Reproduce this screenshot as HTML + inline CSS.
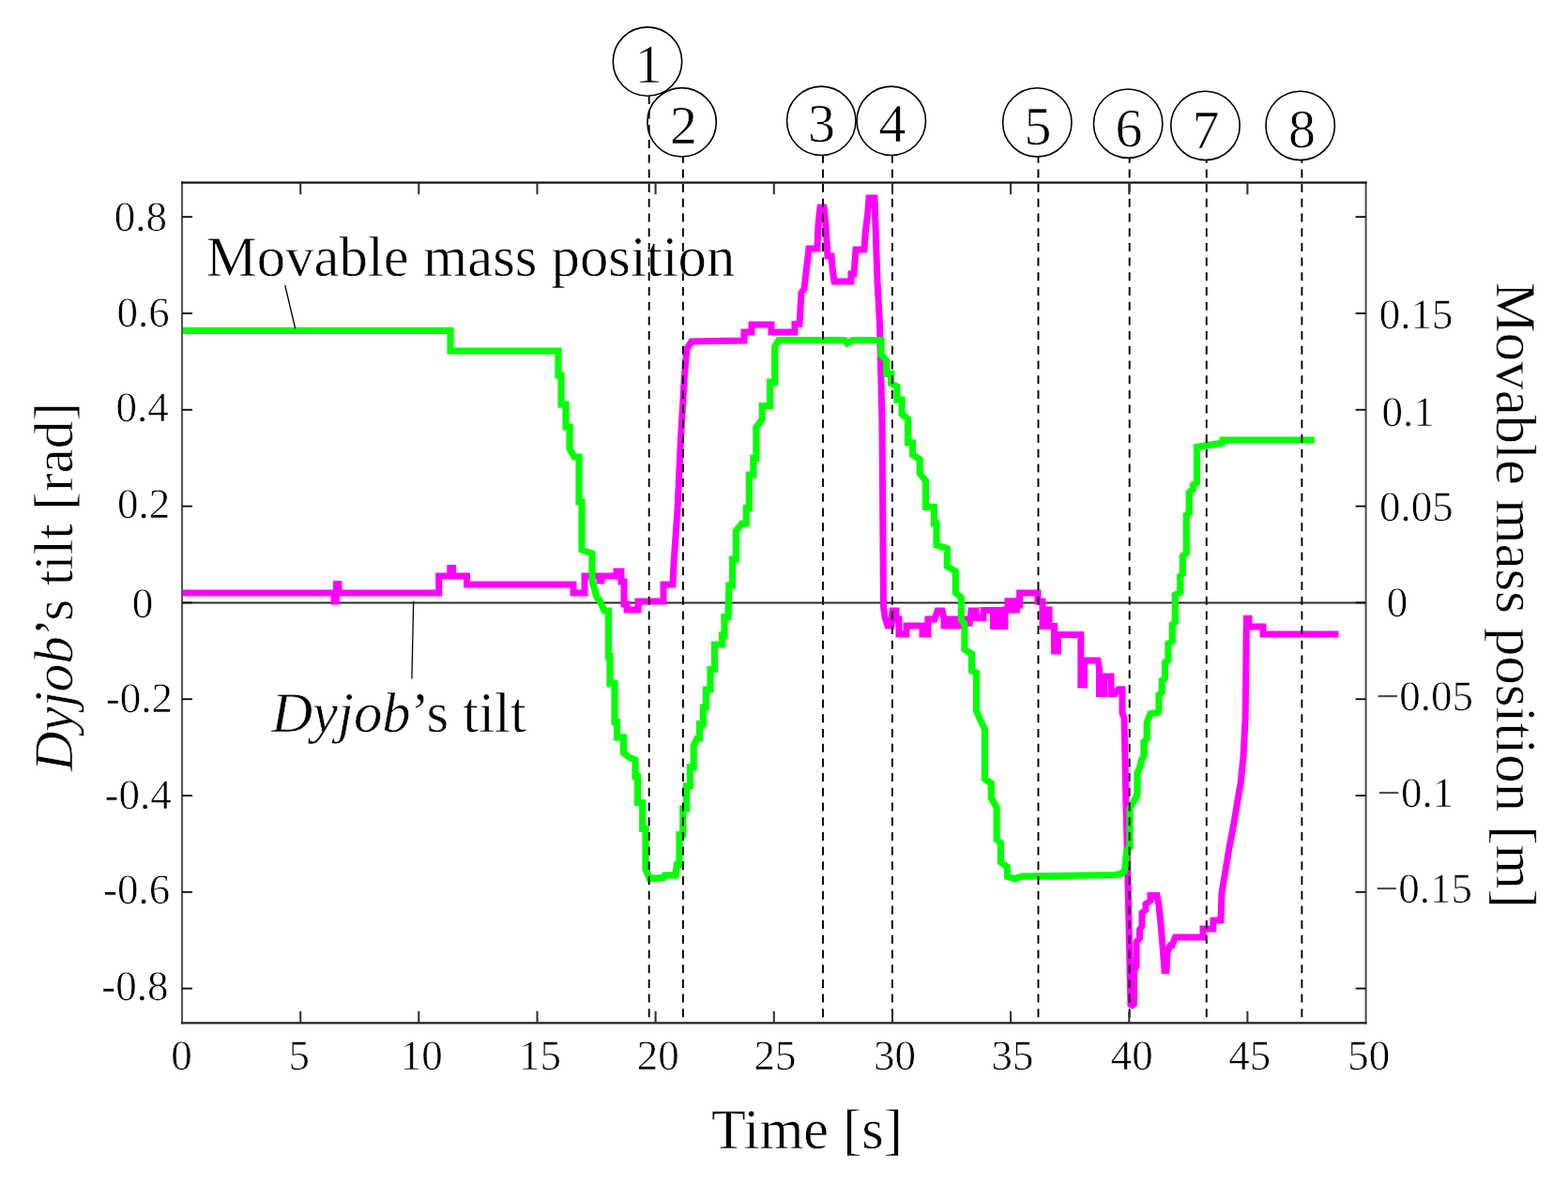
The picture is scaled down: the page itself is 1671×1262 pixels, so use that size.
<!DOCTYPE html>
<html><head><meta charset="utf-8"><style>
html,body{margin:0;padding:0;background:#fff;width:1671px;height:1262px;overflow:hidden}
svg{display:block}
text{font-family:"Liberation Serif","Times New Roman",serif;fill:#000;text-rendering:geometricPrecision;stroke:#fff;stroke-width:0.6px}
</style></head><body>
<svg width="1671" height="1262" viewBox="0 0 1671 1262">
<rect width="1671" height="1262" fill="#fff"/>
<line x1="194.0" y1="642.4" x2="1455.6" y2="642.4" stroke="#2a2a2a" stroke-width="2"/>
<polyline points="194.0,632.0 356.0,632.0 356.0,641.0 358.5,641.0 358.5,622.6 361.0,622.6 361.0,632.0 467.7,632.0 467.7,614.0 479.8,614.0 479.8,605.5 482.6,605.5 482.6,614.0 497.5,614.0 497.5,623.0 611.0,623.0 611.0,632.0 623.0,632.0 623.0,614.0 639.0,614.0 639.0,619.0 641.0,619.0 641.0,614.0 657.0,614.0 657.0,609.0 662.0,609.0 662.0,620.0 665.0,620.0 665.0,644.0 668.0,644.0 668.0,650.0 680.0,650.0 680.0,641.0 707.0,641.0 707.0,623.0 717.0,623.0 718.0,601.0 722.0,543.0 725.5,467.0 729.3,403.0 731.8,372.0 737.0,364.0 793.0,363.0 793.0,354.0 801.0,354.0 801.0,346.0 822.0,346.0 822.0,354.0 847.0,354.0 847.0,345.5 852.0,345.5 854.0,312.0 857.0,308.0 859.0,290.0 862.0,265.0 871.0,265.0 872.0,240.0 874.0,221.0 878.0,221.0 880.0,240.0 882.0,273.0 886.0,273.0 887.0,285.0 889.0,300.0 907.0,300.0 907.0,292.0 910.0,292.0 912.0,266.0 921.0,266.0 922.0,250.0 925.0,225.0 926.0,211.0 932.0,211.0 933.0,240.0 935.0,300.0 937.5,345.0 940.0,450.0 941.5,646.0 943.0,658.0 946.0,667.0 950.0,667.0 951.0,651.0 955.0,651.0 955.0,660.0 958.0,660.0 958.0,676.0 966.0,676.0 966.0,667.0 983.0,667.0 983.0,676.0 989.0,676.0 989.0,660.0 996.0,660.0 999.0,651.0 1004.0,651.0 1006.0,660.0 1006.0,667.0 1009.0,667.0 1009.0,660.0 1016.0,660.0 1016.0,667.0 1022.0,667.0 1022.0,660.0 1031.0,660.0 1033.0,667.0 1035.0,651.0 1040.0,651.0 1040.0,658.5 1048.0,658.5 1048.0,650.5 1058.5,650.5 1058.5,667.6 1062.0,667.6 1062.0,650.5 1066.0,650.5 1066.0,667.6 1071.0,667.6 1071.0,649.9 1083.4,649.9 1083.4,640.7 1074.0,640.7 1074.0,645.0 1086.6,645.0 1086.6,632.0 1106.0,632.0 1106.0,641.0 1111.0,641.0 1111.0,667.5 1118.0,667.5 1118.0,650.0 1115.0,650.0 1115.0,667.5 1123.5,667.5 1123.5,694.0 1127.5,694.0 1127.5,676.6 1151.8,676.6 1151.8,730.0 1155.5,730.0 1155.5,704.0 1170.0,704.0 1171.5,712.0 1171.5,739.5 1176.5,739.5 1176.5,721.0 1184.0,721.0 1184.0,739.5 1188.0,739.5 1192.0,734.7 1196.0,734.7 1196.0,760.0 1198.0,765.0 1200.0,857.0 1202.0,940.0 1205.0,1073.0 1208.5,1070.0 1208.5,1035.0 1211.0,1030.0 1211.0,1004.0 1214.5,1000.0 1214.5,991.0 1217.0,987.0 1217.0,973.0 1221.0,970.0 1221.0,963.5 1226.0,960.0 1226.0,954.6 1233.0,954.6 1235.0,965.0 1237.5,990.0 1239.5,1015.0 1241.0,1034.6 1243.0,1034.6 1244.0,1015.0 1247.0,1007.8 1249.0,1007.8 1252.5,999.0 1282.0,999.0 1282.0,990.0 1293.0,990.0 1293.0,981.0 1301.0,981.0 1302.0,951.7 1306.0,927.5 1310.0,903.3 1314.2,881.7 1318.2,857.5 1322.3,833.3 1325.0,806.4 1327.1,766.0 1327.7,725.7 1328.2,671.9 1328.5,659.3 1331.0,659.3 1331.0,668.0 1346.0,668.0 1346.0,676.0 1426.5,676.0" fill="none" stroke="#ff00ff" stroke-width="7" stroke-linejoin="miter" stroke-miterlimit="2" stroke-linecap="butt"/>
<polyline points="194.0,352.3 480.0,352.3 480.0,374.0 595.0,374.0 595.0,400.0 598.0,400.0 598.0,431.0 603.0,431.0 603.0,455.0 607.0,455.0 607.0,478.0 612.0,487.0 617.0,487.0 617.0,535.0 620.0,535.0 620.0,586.0 631.0,590.0 631.0,619.0 636.0,636.6 639.0,640.0 644.0,651.0 648.4,651.0 648.4,699.6 650.0,699.6 650.0,728.7 655.0,728.7 655.0,769.3 657.5,769.3 657.5,785.8 664.4,785.8 664.4,802.3 670.7,807.3 677.0,810.0 677.0,827.6 679.6,827.6 679.6,855.5 684.7,855.5 684.7,883.4 688.0,883.4 688.0,926.5 692.3,936.7 707.5,935.4 708.7,932.9 720.2,932.9 721.4,921.4 724.0,921.4 724.0,889.7 727.8,889.7 727.8,861.9 731.6,861.9 731.6,837.8 735.4,837.8 735.4,817.5 739.2,817.5 739.2,794.7 743.0,787.0 745.5,787.0 745.5,771.8 749.3,771.8 749.3,754.0 752.4,754.0 752.4,735.0 757.0,735.0 757.0,713.5 761.5,713.5 761.5,687.0 769.6,687.0 769.6,676.8 772.0,676.8 772.0,657.7 776.0,657.7 776.8,624.0 780.6,624.0 780.6,596.0 784.4,596.0 784.4,565.7 790.7,558.0 795.3,558.0 795.3,541.6 798.3,541.6 798.3,506.0 802.9,506.0 802.9,488.3 805.9,488.3 805.9,455.4 812.3,446.5 812.3,432.5 820.6,432.5 820.6,407.2 825.7,407.2 825.7,369.2 830.0,362.5 899.8,362.5 902.8,366.0 908.8,362.5 939.0,362.5 939.0,378.0 944.7,384.4 944.7,398.3 949.7,398.3 949.7,408.5 956.0,412.3 956.0,426.2 961.1,426.2 961.1,441.4 967.5,446.5 967.5,471.8 972.5,471.8 972.5,484.5 980.2,489.6 980.2,504.8 986.5,512.4 986.5,540.3 995.4,540.3 995.4,558.0 998.0,558.0 998.0,580.9 1009.3,584.7 1009.3,603.7 1018.3,609.0 1018.3,631.6 1024.3,637.0 1024.3,660.3 1027.9,665.0 1027.9,692.0 1035.5,697.0 1035.5,714.8 1040.6,717.3 1040.6,757.9 1044.4,766.8 1049.4,777.0 1049.4,830.2 1056.3,835.2 1056.3,850.4 1062.1,860.6 1062.1,894.8 1066.4,898.6 1066.4,918.9 1073.5,924.0 1073.5,934.1 1081.1,936.6 1088.7,934.1 1188.0,932.5 1194.5,931.5 1198.5,928.4 1199.2,922.0 1200.8,906.2 1204.0,903.0 1204.0,861.9 1206.4,857.0 1210.3,850.8 1212.0,846.0 1212.0,824.0 1214.3,819.0 1216.7,809.7 1219.0,806.0 1219.0,790.6 1222.2,787.5 1222.2,770.0 1226.0,760.6 1234.0,759.5 1235.0,756.0 1235.0,740.5 1238.2,738.0 1238.2,725.3 1241.5,722.8 1241.5,706.3 1245.0,703.8 1245.0,686.0 1249.3,683.5 1249.3,665.8 1252.3,663.3 1252.3,634.0 1257.7,631.5 1257.7,614.0 1260.3,611.5 1260.3,592.8 1264.3,589.3 1264.3,548.9 1267.2,546.5 1267.2,525.0 1271.4,521.5 1271.4,516.8 1275.5,514.4 1275.5,476.4 1286.8,474.6 1302.3,472.2 1302.9,469.0 1401.0,469.0" fill="none" stroke="#04ff04" stroke-width="7.2" stroke-linejoin="miter" stroke-miterlimit="1.5" stroke-linecap="butt"/>
<line x1="691.7" y1="102.3" x2="691.7" y2="1090.5" stroke="#000" stroke-width="1.9" stroke-dasharray="9 6.7" stroke-dashoffset="0.40"/>
<line x1="727.9" y1="167.0" x2="727.9" y2="1090.5" stroke="#000" stroke-width="1.9" stroke-dasharray="9 6.7" stroke-dashoffset="2.30"/>
<line x1="877.0" y1="165.5" x2="877.0" y2="1090.5" stroke="#000" stroke-width="1.9" stroke-dasharray="9 6.7" stroke-dashoffset="0.80"/>
<line x1="950.9" y1="165.5" x2="950.9" y2="1090.5" stroke="#000" stroke-width="1.9" stroke-dasharray="9 6.7" stroke-dashoffset="0.80"/>
<line x1="1106.5" y1="167.1" x2="1106.5" y2="1090.5" stroke="#000" stroke-width="1.9" stroke-dasharray="9 6.7" stroke-dashoffset="2.40"/>
<line x1="1203.7" y1="168.4" x2="1203.7" y2="1090.5" stroke="#000" stroke-width="1.9" stroke-dasharray="9 6.7" stroke-dashoffset="3.70"/>
<line x1="1285.8" y1="170.6" x2="1285.8" y2="1090.5" stroke="#000" stroke-width="1.9" stroke-dasharray="9 6.7" stroke-dashoffset="5.90"/>
<line x1="1387.4" y1="170.6" x2="1387.4" y2="1090.5" stroke="#000" stroke-width="1.9" stroke-dasharray="9 6.7" stroke-dashoffset="5.90"/>
<line x1="194.0" y1="193.5" x2="194.0" y2="1091.5" stroke="#555" stroke-width="2.1"/>
<line x1="1455.6" y1="193.5" x2="1455.6" y2="1091.5" stroke="#4a4a4a" stroke-width="2.0"/>
<line x1="193.0" y1="194.65" x2="1456.6" y2="194.65" stroke="#151515" stroke-width="2.1"/>
<line x1="193.0" y1="1090.4" x2="1456.6" y2="1090.4" stroke="#202020" stroke-width="2.1"/>
<line x1="194.0" y1="334.0" x2="205.0" y2="334.0" stroke="#111" stroke-width="1.9"/>
<line x1="1455.6" y1="334.0" x2="1444.6" y2="334.0" stroke="#111" stroke-width="1.9"/>
<line x1="194.0" y1="436.8" x2="205.0" y2="436.8" stroke="#111" stroke-width="1.9"/>
<line x1="1455.6" y1="436.8" x2="1444.6" y2="436.8" stroke="#111" stroke-width="1.9"/>
<line x1="194.0" y1="539.6" x2="205.0" y2="539.6" stroke="#111" stroke-width="1.9"/>
<line x1="1455.6" y1="539.6" x2="1444.6" y2="539.6" stroke="#111" stroke-width="1.9"/>
<line x1="194.0" y1="642.4" x2="205.0" y2="642.4" stroke="#111" stroke-width="1.9"/>
<line x1="1455.6" y1="642.4" x2="1444.6" y2="642.4" stroke="#111" stroke-width="1.9"/>
<line x1="194.0" y1="745.2" x2="205.0" y2="745.2" stroke="#111" stroke-width="1.9"/>
<line x1="1455.6" y1="745.2" x2="1444.6" y2="745.2" stroke="#111" stroke-width="1.9"/>
<line x1="194.0" y1="848.0" x2="205.0" y2="848.0" stroke="#111" stroke-width="1.9"/>
<line x1="1455.6" y1="848.0" x2="1444.6" y2="848.0" stroke="#111" stroke-width="1.9"/>
<line x1="194.0" y1="950.8" x2="205.0" y2="950.8" stroke="#111" stroke-width="1.9"/>
<line x1="1455.6" y1="950.8" x2="1444.6" y2="950.8" stroke="#111" stroke-width="1.9"/>
<line x1="194.0" y1="231.2" x2="205.0" y2="231.2" stroke="#111" stroke-width="1.9"/>
<line x1="1455.6" y1="231.2" x2="1444.6" y2="231.2" stroke="#111" stroke-width="1.9"/>
<line x1="194.0" y1="1053.6" x2="205.0" y2="1053.6" stroke="#111" stroke-width="1.9"/>
<line x1="1455.6" y1="1053.6" x2="1444.6" y2="1053.6" stroke="#111" stroke-width="1.9"/>
<line x1="320.2" y1="1090.5" x2="320.2" y2="1077.8" stroke="#333" stroke-width="2.1"/>
<line x1="320.2" y1="194.5" x2="320.2" y2="207.2" stroke="#333" stroke-width="2.1"/>
<line x1="446.3" y1="1090.5" x2="446.3" y2="1077.8" stroke="#333" stroke-width="2.1"/>
<line x1="446.3" y1="194.5" x2="446.3" y2="207.2" stroke="#333" stroke-width="2.1"/>
<line x1="572.5" y1="1090.5" x2="572.5" y2="1077.8" stroke="#333" stroke-width="2.1"/>
<line x1="572.5" y1="194.5" x2="572.5" y2="207.2" stroke="#333" stroke-width="2.1"/>
<line x1="698.6" y1="1090.5" x2="698.6" y2="1077.8" stroke="#333" stroke-width="2.1"/>
<line x1="698.6" y1="194.5" x2="698.6" y2="207.2" stroke="#333" stroke-width="2.1"/>
<line x1="824.8" y1="1090.5" x2="824.8" y2="1077.8" stroke="#333" stroke-width="2.1"/>
<line x1="824.8" y1="194.5" x2="824.8" y2="207.2" stroke="#333" stroke-width="2.1"/>
<line x1="951.0" y1="1090.5" x2="951.0" y2="1077.8" stroke="#333" stroke-width="2.1"/>
<line x1="951.0" y1="194.5" x2="951.0" y2="207.2" stroke="#333" stroke-width="2.1"/>
<line x1="1077.1" y1="1090.5" x2="1077.1" y2="1077.8" stroke="#333" stroke-width="2.1"/>
<line x1="1077.1" y1="194.5" x2="1077.1" y2="207.2" stroke="#333" stroke-width="2.1"/>
<line x1="1203.3" y1="1090.5" x2="1203.3" y2="1077.8" stroke="#333" stroke-width="2.1"/>
<line x1="1203.3" y1="194.5" x2="1203.3" y2="207.2" stroke="#333" stroke-width="2.1"/>
<line x1="1329.4" y1="1090.5" x2="1329.4" y2="1077.8" stroke="#333" stroke-width="2.1"/>
<line x1="1329.4" y1="194.5" x2="1329.4" y2="207.2" stroke="#333" stroke-width="2.1"/>
<line x1="303.7" y1="304" x2="314.8" y2="350.5" stroke="#000" stroke-width="1.3"/>
<line x1="440.7" y1="640.8" x2="438.9" y2="723.4" stroke="#000" stroke-width="1.3"/>
<circle cx="690.0" cy="65.6" r="36.7" fill="none" stroke="#000" stroke-width="1.6"/>
<circle cx="726.6" cy="130.3" r="36.7" fill="none" stroke="#000" stroke-width="1.6"/>
<circle cx="875.3" cy="128.8" r="36.7" fill="none" stroke="#000" stroke-width="1.6"/>
<circle cx="949.8" cy="128.8" r="36.7" fill="none" stroke="#000" stroke-width="1.6"/>
<circle cx="1105.35" cy="130.4" r="36.7" fill="none" stroke="#000" stroke-width="1.6"/>
<circle cx="1202.2" cy="131.7" r="36.7" fill="none" stroke="#000" stroke-width="1.6"/>
<circle cx="1284.5" cy="133.9" r="36.7" fill="none" stroke="#000" stroke-width="1.6"/>
<circle cx="1385.7" cy="133.9" r="36.7" fill="none" stroke="#000" stroke-width="1.6"/>
<text x="149.90" y="245.60" font-size="45.00" text-anchor="middle">0.8</text>
<text x="152.50" y="348.20" font-size="45.00" text-anchor="middle">0.6</text>
<text x="151.60" y="449.40" font-size="45.00" text-anchor="middle">0.4</text>
<text x="153.10" y="552.00" font-size="45.00" text-anchor="middle">0.2</text>
<text x="152.10" y="657.60" font-size="45.00" text-anchor="middle">0</text>
<text x="148.40" y="759.40" font-size="45.00" text-anchor="middle">-0.2</text>
<text x="147.20" y="862.00" font-size="45.00" text-anchor="middle">-0.4</text>
<text x="145.70" y="963.00" font-size="45.00" text-anchor="middle">-0.6</text>
<text x="143.90" y="1065.80" font-size="45.00" text-anchor="middle">-0.8</text>
<text x="1509.10" y="349.60" font-size="45.00" text-anchor="middle">0.15</text>
<text x="1500.70" y="454.40" font-size="45.00" text-anchor="middle">0.1</text>
<text x="1509.40" y="555.20" font-size="45.00" text-anchor="middle">0.05</text>
<text x="1489.00" y="656.60" font-size="45.00" text-anchor="middle">0</text>
<text x="1518.00" y="756.60" font-size="45.00" text-anchor="middle">−0.05</text>
<text x="1508.40" y="860.00" font-size="45.00" text-anchor="middle">−0.1</text>
<text x="1517.00" y="962.40" font-size="45.00" text-anchor="middle">−0.15</text>
<text x="193.40" y="1139.80" font-size="45.00" text-anchor="middle">0</text>
<text x="318.80" y="1139.80" font-size="45.00" text-anchor="middle">5</text>
<text x="449.30" y="1139.60" font-size="45.00" text-anchor="middle">10</text>
<text x="575.60" y="1139.60" font-size="45.00" text-anchor="middle">15</text>
<text x="701.20" y="1139.60" font-size="45.00" text-anchor="middle">20</text>
<text x="826.10" y="1139.60" font-size="45.00" text-anchor="middle">25</text>
<text x="953.50" y="1139.60" font-size="45.00" text-anchor="middle">30</text>
<text x="1079.10" y="1139.60" font-size="45.00" text-anchor="middle">35</text>
<text x="1206.30" y="1139.60" font-size="45.00" text-anchor="middle">40</text>
<text x="1331.80" y="1139.60" font-size="45.00" text-anchor="middle">45</text>
<text x="1458.70" y="1139.60" font-size="45.00" text-anchor="middle">50</text>
<text x="691.30" y="88.40" font-size="58.00" text-anchor="middle">1</text>
<text x="728.50" y="153.40" font-size="58.00" text-anchor="middle">2</text>
<text x="875.60" y="151.40" font-size="58.00" text-anchor="middle">3</text>
<text x="951.00" y="151.40" font-size="58.00" text-anchor="middle">4</text>
<text x="1106.10" y="154.00" font-size="58.00" text-anchor="middle">5</text>
<text x="1203.00" y="155.60" font-size="58.00" text-anchor="middle">6</text>
<text x="1285.00" y="158.20" font-size="58.00" text-anchor="middle">7</text>
<text x="1387.50" y="156.60" font-size="58.00" text-anchor="middle">8</text>
<text x="859.90" y="1224.00" font-size="60.35" text-anchor="middle">Time [s]</text>
<text x="501.60" y="294.20" font-size="60.74" text-anchor="middle">Movable mass position</text>
<text x="425.00" y="780.00" font-size="60.72" text-anchor="middle"><tspan font-style="italic">Dyjob</tspan>’s tilt</text>
<text transform="translate(77.30 625.70) rotate(-90)" font-size="59.00" text-anchor="middle"><tspan font-style="italic">Dyjob</tspan>’s tilt [rad]</text>
<text transform="translate(1595.20 634.40) rotate(90)" font-size="60.83" text-anchor="middle">Movable mass position [m]</text>
</svg>
</body></html>
